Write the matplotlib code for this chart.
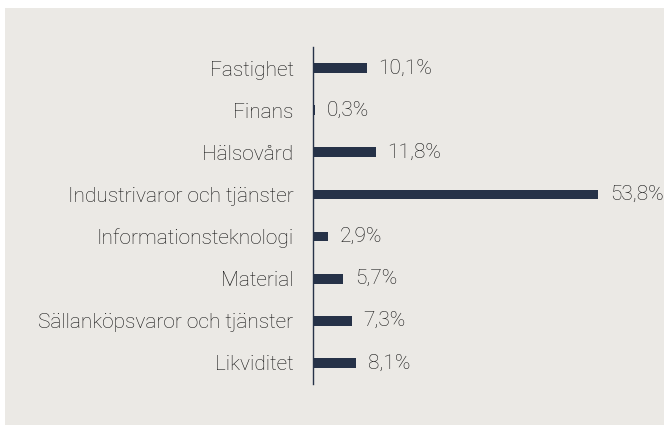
import matplotlib
matplotlib.use("Agg")
import matplotlib.pyplot as plt
from matplotlib.patches import Rectangle

categories = ["Fastighet", "Finans", "Hälsovård", "Industrivaror och tjänster",
              "Informationsteknologi", "Material", "Sällanköpsvaror och tjänster",
              "Likviditet"]
values = [10.1, 0.3, 11.8, 53.8, 2.9, 5.7, 7.3, 8.1]
labels = ["10,1%", "0,3%", "11,8%", "53,8%", "2,9%", "5,7%", "7,3%", "8,1%"]

BG = "#ebe9e5"
BAR = "#263248"
TXT = "#111111"
plt.rcParams["font.family"] = ["Roboto", "DejaVu Sans"]

fig = plt.figure(figsize=(6.64, 4.25), dpi=100, facecolor="white")
fig.add_artist(Rectangle((5 / 664, 0), 1, 1 - 8 / 425, transform=fig.transFigure,
                         facecolor=BG, edgecolor="none", zorder=-10))
ax = fig.add_axes([313 / 664, 1 - 384 / 425, 318 / 664, 337 / 425])
ax.set_facecolor("none")

y = list(range(len(categories)))
ax.barh(y, values, height=0.23, color=BAR)
for yi, v, lab in zip(y, values, labels):
    ax.annotate(lab, (v, yi), xytext=(8.5, 0), textcoords="offset points",
                va="center", ha="left", fontsize=15, fontweight="light", color=TXT)

ax.set_ylim(len(categories) - 0.5, -0.5)
ax.set_xlim(0, 60)
ax.set_yticks(y, categories)
ax.tick_params(axis="y", length=0, pad=14, labelsize=15, labelcolor=TXT)
for lab in ax.get_yticklabels():
    lab.set_fontweight("light")
ax.set_xticks([])
for s in ("top", "right", "bottom"):
    ax.spines[s].set_visible(False)
ax.spines["left"].set_color(BAR)
ax.spines["left"].set_linewidth(1.0)

fig.savefig("out.png", dpi=100, facecolor="white")
